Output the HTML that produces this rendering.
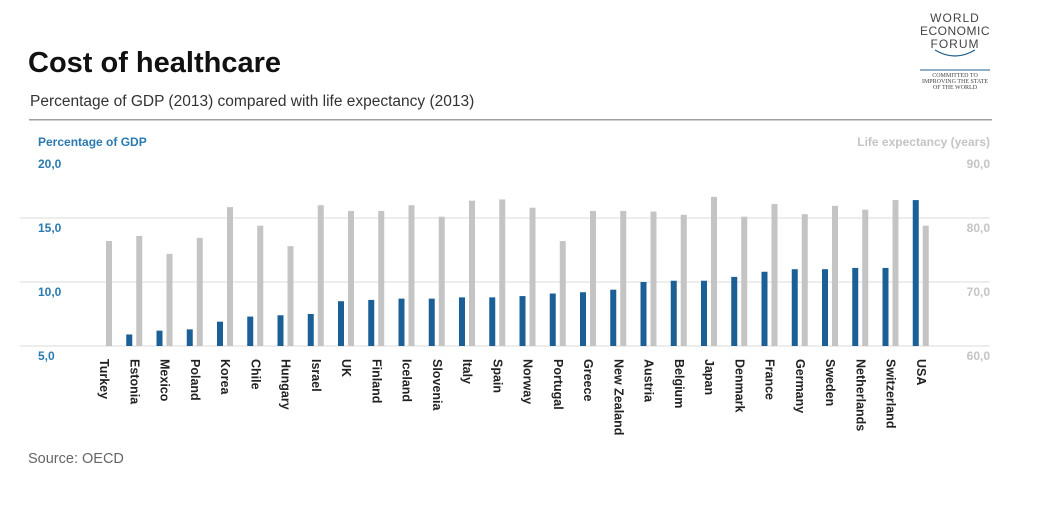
<!DOCTYPE html>
<html><head><meta charset="utf-8"><style>
body{margin:0;background:#fff;width:1056px;height:502px;overflow:hidden;font-family:"Liberation Sans",Arial,sans-serif}
</style></head><body>
<svg id="chart" width="1056" height="502" xmlns="http://www.w3.org/2000/svg" font-family="Liberation Sans, Arial, sans-serif">
<text x="28" y="72" font-size="29" font-weight="bold" fill="#111">Cost of healthcare</text>
<text x="30" y="106" font-size="15.5" fill="#333">Percentage of GDP (2013) compared with life expectancy (2013)</text>
<rect x="29" y="119" width="963" height="1.5" fill="#a0a0a0"/>
<g fill="#444" text-anchor="middle">
<text x="955" y="22" font-size="12" letter-spacing="1">WORLD</text>
<text x="955" y="35" font-size="12" letter-spacing="0.5">ECONOMIC</text>
<text x="955" y="48" font-size="12" letter-spacing="1">FORUM</text>
<path d="M935 50 Q955 62 975 50" stroke="#1f5f8b" stroke-width="1.2" fill="none"/>
<line x1="920" y1="70" x2="990" y2="70" stroke="#1f5f8b" stroke-width="1"/>
<text x="955" y="77" font-size="6" font-family="Liberation Serif, serif">COMMITTED TO</text>
<text x="955" y="83" font-size="6" font-family="Liberation Serif, serif">IMPROVING THE STATE</text>
<text x="955" y="89" font-size="6" font-family="Liberation Serif, serif">OF THE WORLD</text>
</g>
<text x="38" y="146" font-size="12" font-weight="bold" fill="#2a7ab0">Percentage of GDP</text>
<text x="990" y="146" font-size="12" font-weight="bold" fill="#c4c4c4" text-anchor="end">Life expectancy (years)</text>
<g id="grid"></g><g id="bars"></g><g id="labels"></g>
<text x="28" y="463" font-size="14.5" fill="#666">Source:  OECD</text>
</svg>
<script>
const countries=["Turkey","Estonia","Mexico","Poland","Korea","Chile","Hungary","Israel","UK","Finland","Iceland","Slovenia","Italy","Spain","Norway","Portugal","Greece","New Zealand","Austria","Belgium","Japan","Denmark","France","Germany","Sweden","Netherlands","Switzerland","USA"];
const gdp=[null,5.9,6.2,6.3,6.9,7.3,7.4,7.5,8.5,8.6,8.7,8.7,8.8,8.8,8.9,9.1,9.2,9.4,10.0,10.1,10.1,10.4,10.8,11.0,11.0,11.1,11.1,16.4];
const life=[76.4,77.2,74.4,76.9,81.7,78.8,75.6,82.0,81.1,81.1,82.0,80.2,82.7,82.9,81.6,76.4,81.1,81.1,81.0,80.5,83.3,80.2,82.2,80.6,81.9,81.3,82.8,78.8];
const leftTicks=["5,0","10,0","15,0","20,0"];
const leftVals=[5,10,15,20];
const rightTicks=["60,0","70,0","80,0","90,0"];
const rightVals=[60,70,80,90];
const NS="http://www.w3.org/2000/svg";
const yL=v=>346-(v-5)*12.8;
const yR=v=>346-(v-60)*6.4;
const xC=i=>104+i*30.25;
function mk(t,a,p){const e=document.createElementNS(NS,t);for(const k in a)e.setAttribute(k,a[k]);p.appendChild(e);return e;}
const grid=document.getElementById('grid'),bars=document.getElementById('bars'),labels=document.getElementById('labels');
leftVals.forEach((v,i)=>{
  const y=yL(v);
  if(i<3){const l=mk('line',{x1:20,x2:990,y1:y,y2:y,stroke:'#e2e2e2','stroke-width':1.2},grid);
  
  }
  const t=mk('text',{x:38,y:y+14,'font-size':12,'font-weight':'bold',fill:'#2a7ab0'},grid);t.textContent=leftTicks[i];
  
  
});
rightVals.forEach((v,i)=>{
  const t=mk('text',{x:990,y:yR(v)+14,'font-size':12,'font-weight':'bold',fill:'#c4c4c4','text-anchor':'end'},grid);t.textContent=rightTicks[i];
  
  
});
countries.forEach((c,i)=>{
  const x=xC(i);
  if(gdp[i]!=null){const b=mk('rect',{x:x-8,y:yL(gdp[i]),width:6,height:346-yL(gdp[i]),fill:'#1a5f96'},bars);
  
  }
  const g=mk('rect',{x:x+2,y:yR(life[i]),width:6,height:346-yR(life[i]),fill:'#c4c4c4'},bars);
  
  
  const t=mk('text',{x:0,y:0,'font-size':12.5,'font-weight':'bold',fill:'#222',transform:`translate(${x-4},359) rotate(90)`},labels);
  t.textContent=c;
  
  
});
</script>
</body></html>
